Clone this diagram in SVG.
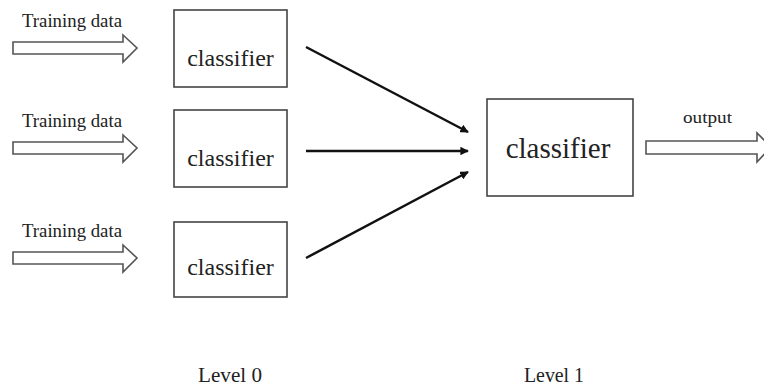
<svg xmlns="http://www.w3.org/2000/svg" width="764" height="387" viewBox="0 0 764 387">
<style>
.box{fill:#fff;stroke:#444;stroke-width:1.6}
.hollow{fill:#fff;stroke:#555;stroke-width:1.6;stroke-linejoin:miter}
.t{font-family:"Liberation Serif","DejaVu Serif","Times New Roman",serif;fill:#222;font-variant-ligatures:none}
.conn{stroke:#111;stroke-width:2.5;fill:none;marker-end:url(#ah)}
</style>
<defs>
<marker id="ah" viewBox="0 0 10 10" refX="9" refY="5" markerWidth="3.4" markerHeight="3.4" orient="auto" markerUnits="strokeWidth">
<path d="M0,0 L10,5 L0,10 z" fill="#111"/>
</marker>
</defs>
<rect width="764" height="387" fill="#fff"/>
<g id="input1">
<path class="hollow" d="M13,42 H123 V35 L137,48 L123,62 V54 H13 Z"/>
<text class="t" x="22" y="27" font-size="18" textLength="100" lengthAdjust="spacingAndGlyphs">Training data</text>
</g>
<g id="input2">
<path class="hollow" d="M13,142 H123 V135 L137,148 L123,162 V154 H13 Z"/>
<text class="t" x="22" y="127" font-size="18" textLength="100" lengthAdjust="spacingAndGlyphs">Training data</text>
</g>
<g id="input3">
<path class="hollow" d="M13,252 H123 V245 L137,258 L123,272 V264 H13 Z"/>
<text class="t" x="22" y="237" font-size="18" textLength="100" lengthAdjust="spacingAndGlyphs">Training data</text>
</g>
<g id="clf1">
<rect class="box" x="174" y="10" width="113" height="77"/>
<text class="t" x="230.5" y="66" font-size="24" text-anchor="middle">classifier</text>
</g>
<g id="clf2">
<rect class="box" x="174" y="110" width="113" height="77"/>
<text class="t" x="230.5" y="166" font-size="24" text-anchor="middle">classifier</text>
</g>
<g id="clf3">
<rect class="box" x="174" y="222" width="113" height="75"/>
<text class="t" x="230.5" y="275" font-size="24" text-anchor="middle">classifier</text>
</g>
<g id="clf-meta">
<rect class="box" x="487" y="99" width="146" height="97"/>
<text class="t" x="558" y="158" font-size="29" text-anchor="middle">classifier</text>
</g>
<g id="output">
<path class="hollow" d="M646,141 H757 V133 L771,147 L757,162 V154 H646 Z"/>
<text class="t" x="683" y="123" font-size="17" textLength="49" lengthAdjust="spacingAndGlyphs">output</text>
</g>
<g id="connectors">
<line class="conn" x1="306" y1="47" x2="468" y2="132"/>
<line class="conn" x1="306" y1="151" x2="468" y2="151"/>
<line class="conn" x1="306" y1="258" x2="468" y2="172"/>
</g>
<g id="labels">
<text class="t" x="198" y="382" font-size="20" textLength="64" lengthAdjust="spacingAndGlyphs">Level 0</text>
<text class="t" x="524" y="382" font-size="20" textLength="60" lengthAdjust="spacingAndGlyphs">Level 1</text>
</g>
</svg>
